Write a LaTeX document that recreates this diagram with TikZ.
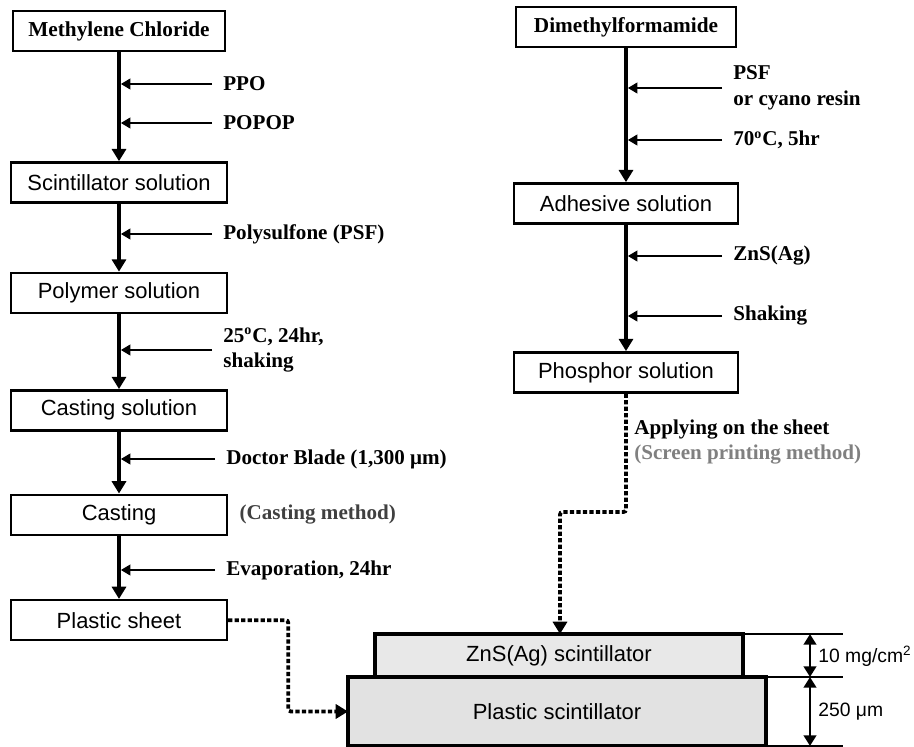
\documentclass[tikz,border=0pt]{standalone}
\usepackage{fontspec}
\setmainfont{Liberation Serif}
\setsansfont{Liberation Sans}
\usetikzlibrary{positioning,arrows.meta}
\definecolor{methgray}{RGB}{64,64,64}
\definecolor{scrgray}{RGB}{128,128,128}
\definecolor{znsfill}{RGB}{232,232,232}
\definecolor{plafill}{RGB}{226,226,226}

\begin{document}
\begin{tikzpicture}[x=0.02cm, y=-0.02cm, node distance=1em, every node/.style={align=center}]
    \tikzset{
      procbox/.style={
        draw,
        line width=1.4pt,
        minimum width=4.32cm,
        minimum height=0.8cm,
        inner sep=2pt,
        font=\sffamily\fontsize{12.5}{15}\selectfont
      },
      topbox/.style={procbox, font=\bfseries\fontsize{12.1}{14}\selectfont},
      addlabel/.style={anchor=west, inner sep=0pt, align=left, font=\bfseries\fontsize{12}{14.5}\selectfont},
      mainflow/.style={-{Triangle[width=8pt,length=7pt]}, line width=2.2pt},
      addflow/.style={-{Triangle[width=6pt,length=5.5pt]}, line width=1.6pt, shorten >=1pt},
      dotflow/.style={-{Triangle[width=8pt,length=7pt]}, line width=2.2pt, dash pattern=on 2.4pt off 1.3pt, rounded corners=1.5pt},
      layer/.style={draw, line width=1.8pt, inner sep=0pt, outer sep=0pt, font=\sffamily\fontsize{12.5}{15}\selectfont},
      dimline/.style={line width=1.4pt},
      dimarrow/.style={{Triangle[width=7pt,length=6pt]}-{Triangle[width=7pt,length=6pt]}, line width=1.6pt},
      dimlabel/.style={anchor=west, inner sep=0pt, font=\sffamily\fontsize{11}{13}\selectfont}
    }
    \useasboundingbox (0,0) rectangle (914,747);

    % plastic sheet branch
    \node[topbox, minimum width=4.24cm] (mc) at (119,31) {Methylene Chloride};
    \node[procbox, below=2.18cm of mc] (sc) {Scintillator solution};
    \node[procbox, below=1.36cm of sc] (pm) {Polymer solution};
    \node[procbox, below=1.50cm of pm] (cs) {Casting solution};
    \node[procbox, below=1.24cm of cs] (ca) {Casting};
    \node[procbox, below=1.26cm of ca] (ps) {Plastic sheet};
    \draw[mainflow] (mc) -- (sc);
    \draw[mainflow] (sc) -- (pm);
    \draw[mainflow] (pm) -- (cs);
    \draw[mainflow] (cs) -- (ca);
    \draw[mainflow] (ca) -- (ps);

    \node[addlabel] (ppo) at (223,84) {PPO};
    \node[addlabel] (popop) at (223,123) {POPOP};
    \node[addlabel] (psfl) at (223,234) {Polysulfone (PSF)};
    \node[addlabel] (t25) at (223,350) {25\textsuperscript{o}C, 24hr,\\shaking};
    \node[addlabel] (blade) at (226,459) {Doctor Blade (1,300 μm)};
    \node[addlabel, text=methgray, right=0.22cm of ca] (cmeth) {(Casting method)};
    \node[addlabel] (evap) at (226,570) {Evaporation, 24hr};
    \draw[addflow] ([xshift=-0.22cm]ppo.west) -- (ppo.west -| mc.south);
    \draw[addflow] ([xshift=-0.22cm]popop.west) -- (popop.west -| mc.south);
    \draw[addflow] ([xshift=-0.22cm]psfl.west) -- (psfl.west -| mc.south);
    \draw[addflow] ([xshift=-0.22cm]t25.west) -- (t25.west -| mc.south);
    \draw[addflow] ([xshift=-0.22cm]blade.west) -- (blade.west -| mc.south);
    \draw[addflow] ([xshift=-0.22cm]evap.west) -- (evap.west -| mc.south);

    % phosphor branch
    \node[topbox, minimum width=4.4cm] (dmf) at (626,27) {Dimethylformamide};
    \node[procbox, minimum width=4.48cm, below=2.68cm of dmf] (ad) {Adhesive solution};
    \node[procbox, minimum width=4.48cm, below=2.53cm of ad] (ph) {Phosphor solution};
    \draw[mainflow] (dmf) -- (ad);
    \draw[mainflow] (ad) -- (ph);

    \node[addlabel] (psfr) at (733,88) {PSF\\or cyano resin};
    \node[addlabel] (t70) at (733,140) {70\textsuperscript{o}C, 5hr};
    \node[addlabel] (znsag) at (733,256) {ZnS(Ag)};
    \node[addlabel] (shk) at (733,316) {Shaking};
    \draw[addflow] ([xshift=-0.22cm]psfr.west) -- (psfr.west -| dmf.south);
    \draw[addflow] ([xshift=-0.22cm]t70.west) -- (t70.west -| dmf.south);
    \draw[addflow] ([xshift=-0.22cm]znsag.west) -- (znsag.west -| dmf.south);
    \draw[addflow] ([xshift=-0.22cm]shk.west) -- (shk.west -| dmf.south);

    \node[addlabel] (apply) at (634,442) {Applying on the sheet\\\textcolor{scrgray}{(Screen printing method)}};

    % detector layers
    \node[layer, fill=plafill, minimum width=8.36cm, minimum height=1.38cm] (plast) at (557,711.5) {Plastic scintillator};
    \node[layer, fill=znsfill, minimum width=7.36cm, minimum height=0.86cm, above=0pt of plast, xshift=0.04cm] (zns) {ZnS(Ag) scintillator};

    \coordinate (bend) at (560,512);
    \draw[dotflow] (ph.south) |- (bend) -- (bend |- zns.north);
    \draw[dotflow] (ps.east) -- ++(60,0) |- (plast.west);

    % thickness marks
    \coordinate (dim) at (810,700);
    \draw[dimline] (zns.north east) -- ++(100,0);
    \draw[dimline] (plast.north east) -- ++(77,0);
    \draw[dimline] (plast.south east) -- ++(77,0);
    \draw[dimarrow] (zns.north east -| dim) -- (plast.north east -| dim);
    \draw[dimarrow] (plast.north east -| dim) -- (plast.south east -| dim);
    \node[dimlabel] (thkzns) at (818,656) {10 mg/cm\textsuperscript{2}};
    \node[dimlabel] (thkpla) at (818,712) {250 μm};
  \end{tikzpicture}
\end{document}
